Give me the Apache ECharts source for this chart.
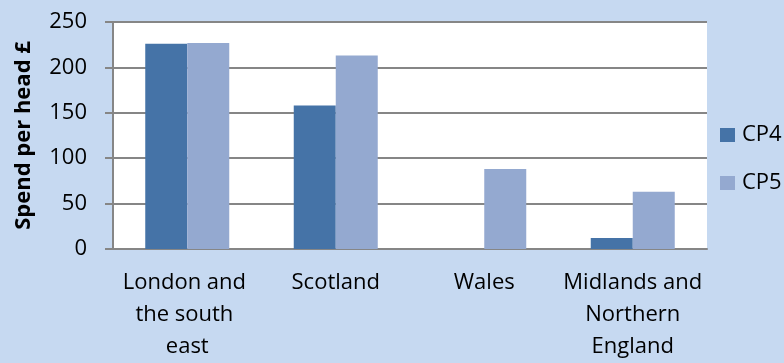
<!DOCTYPE html>
<html><head><meta charset="utf-8">
<script src="https://cdn.jsdelivr.net/npm/echarts@6/dist/echarts.min.js"></script>
<style>html,body{margin:0;padding:0;background:#C6D9F1;}#c{width:784px;height:363px;}</style>
</head><body><div id="c"></div>
<script>
const categories = ["London and the south east", "Scotland", "Wales", "Midlands and Northern England"];
const cp4 = [226, 158, 0, 12];
const cp5 = [227, 213, 88, 63];
const yTicks = [0, 50, 100, 150, 200, 250];
const seriesNames = ["CP4", "CP5"];

const font = "'Open Sans', 'Noto Sans', sans-serif";
const chart = echarts.init(document.getElementById('c'), null, {renderer: 'canvas'});
chart.setOption({
  backgroundColor: '#C6D9F1',
  animation: false,
  textStyle: {fontFamily: font},
  grid: {left: 113, top: 22, right: 77, bottom: 112, show: true, backgroundColor: '#ffffff', borderWidth: 0},
  legend: {
    orient: 'vertical', left: 720, top: 124, padding: 0, itemWidth: 15, itemHeight: 14, itemGap: 26,
    icon: 'rect',
    textStyle: {fontSize: 22, color: '#000', fontFamily: font, padding: [0,0,0,2]},
    data: seriesNames
  },
  xAxis: {
    type: 'category', data: categories,
    axisLine: {show: true, lineStyle: {color: '#868686', width: 2}},
    axisTick: {show: false},
    axisLabel: {color: '#000', fontSize: 22, fontFamily: font, interval: 0, width: 143, overflow: 'break', lineHeight: 32, margin: 18}
  },
  yAxis: {
    type: 'value', min: yTicks[0], max: yTicks[yTicks.length-1], interval: 50,
    name: 'Spend per head £', nameLocation: 'middle', nameGap: 78, nameRotate: 90,
    nameTextStyle: {fontSize: 22, fontWeight: 'bold', color: '#000', fontFamily: font},
    axisLine: {show: true, lineStyle: {color: '#868686', width: 2}},
    axisTick: {show: true, inside: false, length: 8, lineStyle: {color: '#868686', width: 2}},
    splitLine: {show: true, lineStyle: {color: '#868686', width: 2}},
    axisLabel: {color: '#000', fontSize: 22, fontFamily: font, margin: 26}
  },
  series: [
    {name: seriesNames[0], type: 'bar', data: cp4, barWidth: 42, barGap: '0%', itemStyle: {color: '#4573A7'}},
    {name: seriesNames[1], type: 'bar', data: cp5, barWidth: 42, barGap: '0%', itemStyle: {color: '#94A9D0'}}
  ]
});
</script></body></html>
